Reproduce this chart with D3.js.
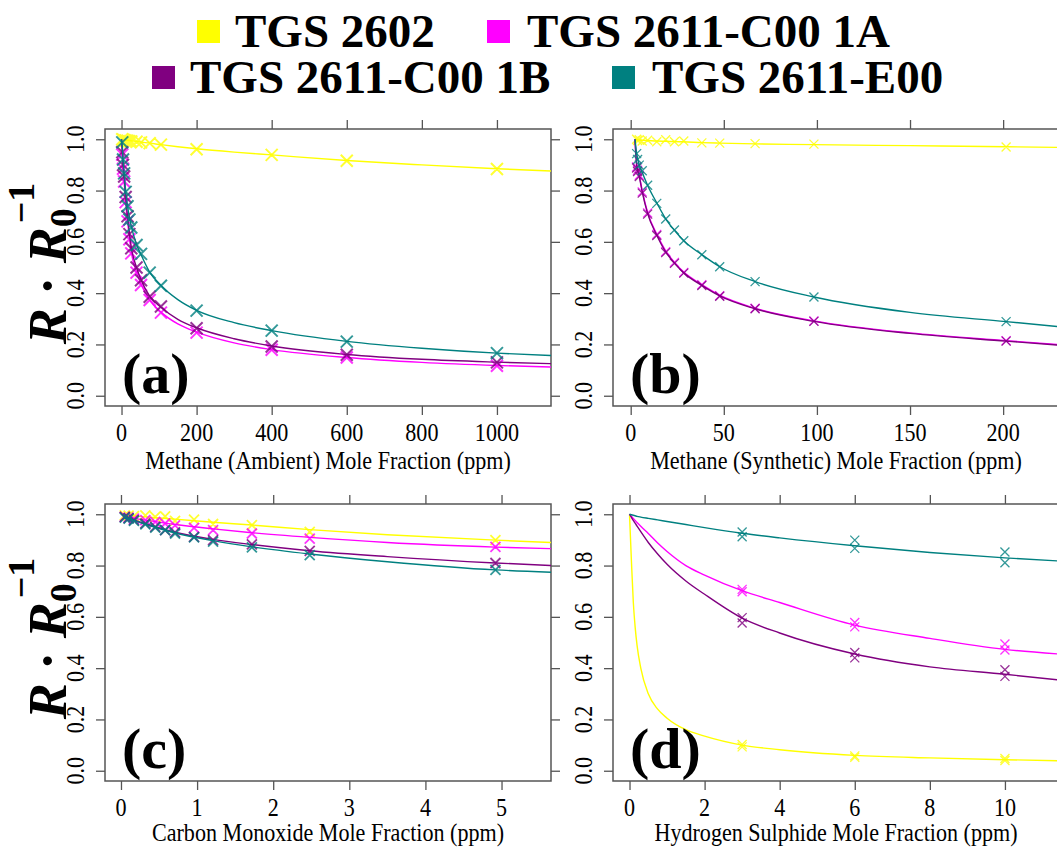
<!DOCTYPE html>
<html><head><meta charset="utf-8">
<script src="https://cdn.jsdelivr.net/npm/d3@7"></script>
<style>body{margin:0;background:#fff;} svg{display:block;}</style>
</head><body>
<svg id="chart" width="1057" height="849"></svg>
<script>
// ---------------- DATA ----------------
const seriesNames  = ["TGS 2602", "TGS 2611-C00 1A", "TGS 2611-C00 1B", "TGS 2611-E00"];
const seriesColors = ["#FFFF00", "#FF00FF", "#800080", "#008080"];
const yTicks = [0, 0.2, 0.4, 0.6, 0.8, 1.0];
const panelLetters = ["(a)", "(b)", "(c)", "(d)"];
const xTitles = ["Methane (Ambient) Mole Fraction (ppm)", "Methane (Synthetic) Mole Fraction (ppm)",
                 "Carbon Monoxide Mole Fraction (ppm)", "Hydrogen Sulphide Mole Fraction (ppm)"];

// Panel (a) – methane ambient
const aXTicks = [0, 200, 400, 600, 800, 1000];
const aPtX = [2, 4, 7, 11, 16, 21, 26, 40, 52, 75, 105, 200, 400, 600, 1000];
const aPtYellow  = [1.0, 0.998, 0.996, 0.995, 0.994, 0.992, 0.991, 0.99, 0.988, 0.985, 0.979, 0.961, 0.939, 0.916, 0.884];
const aPtMagenta = [0.94, 0.885, 0.835, 0.755, 0.68, 0.61, 0.555, 0.48, 0.432, 0.373, 0.324, 0.246, 0.179, 0.149, 0.117];
const aPtPurple  = [0.95, 0.90, 0.855, 0.775, 0.70, 0.63, 0.575, 0.50, 0.45, 0.386, 0.348, 0.263, 0.192, 0.160, 0.130];
const aPtTeal    = [0.988, 0.921, 0.867, 0.795, 0.739, 0.687, 0.656, 0.588, 0.553, 0.480, 0.429, 0.332, 0.254, 0.211, 0.166];
const aFitX = [0, 2, 4, 7, 11, 16, 21, 26, 40, 52, 75, 105, 150, 200, 300, 400, 600, 800, 1000, 1144];
const aFitYellow  = [1, 1.0, 0.999, 0.998, 0.997, 0.996, 0.995, 0.994, 0.991, 0.989, 0.985, 0.979, 0.971, 0.963, 0.95, 0.939, 0.917, 0.90, 0.885, 0.876];
const aFitMagenta = [1, 0.945, 0.885, 0.835, 0.755, 0.68, 0.615, 0.56, 0.482, 0.435, 0.373, 0.326, 0.28, 0.248, 0.206, 0.18, 0.149, 0.13, 0.118, 0.112];
const aFitPurple  = [1, 0.955, 0.90, 0.85, 0.775, 0.70, 0.635, 0.58, 0.50, 0.452, 0.388, 0.345, 0.298, 0.265, 0.222, 0.194, 0.161, 0.142, 0.131, 0.125];
const aFitTeal    = [1, 0.975, 0.925, 0.87, 0.80, 0.74, 0.695, 0.66, 0.59, 0.55, 0.482, 0.43, 0.375, 0.333, 0.285, 0.254, 0.212, 0.185, 0.166, 0.157];

// Panel (b) – methane synthetic
const bXTicks = [0, 50, 100, 150, 200];
const bPtX = [3.2, 3.7, 4.6, 6.2, 9.1, 14, 18.8, 23.5, 28.5, 38.2, 47.8, 66.8, 98.4, 201.6];
const bPtYellow  = [1.0, 0.995, 0.998, 0.993, 0.996, 0.99, 0.998, 0.99, 0.993, 0.986, 0.985, 0.983, 0.981, 0.970];
const bPtMagenta = [0.892, 0.879, 0.86, 0.795, 0.713, 0.629, 0.562, 0.520, 0.481, 0.433, 0.390, 0.341, 0.292, 0.215];
const bPtPurple  = [0.888, 0.874, 0.855, 0.79, 0.708, 0.625, 0.558, 0.516, 0.478, 0.430, 0.388, 0.339, 0.290, 0.213];
const bPtTeal    = [0.944, 0.921, 0.899, 0.877, 0.821, 0.750, 0.689, 0.646, 0.604, 0.550, 0.503, 0.445, 0.385, 0.289];
const bFitX = [2.3, 3.2, 4.6, 6.2, 9.1, 14, 18.8, 23.5, 28.5, 38.2, 47.8, 66.8, 98.4, 150, 201.6, 232];
const bFitYellow  = [1.0, 0.998, 0.997, 0.996, 0.995, 0.993, 0.992, 0.991, 0.99, 0.987, 0.985, 0.982, 0.979, 0.975, 0.971, 0.968];
const bFitMagenta = [1.0, 0.905, 0.86, 0.80, 0.715, 0.63, 0.565, 0.52, 0.482, 0.433, 0.392, 0.341, 0.292, 0.245, 0.215, 0.198];
const bFitPurple  = [1.0, 0.90, 0.855, 0.795, 0.71, 0.626, 0.561, 0.517, 0.479, 0.430, 0.389, 0.339, 0.290, 0.243, 0.213, 0.196];
const bFitTeal    = [1.0, 0.945, 0.90, 0.87, 0.82, 0.752, 0.69, 0.645, 0.604, 0.55, 0.503, 0.445, 0.385, 0.325, 0.289, 0.268];

// Panel (c) – carbon monoxide
const cXTicks = [0, 1, 2, 3, 4, 5];
const cPtX = [0.05, 0.1, 0.17, 0.32, 0.45, 0.58, 0.71, 0.96, 1.21, 1.72, 2.48, 4.92];
const cPtYellow  = [0.996, 0.995, 0.993, 0.996, 0.99, 0.992, 0.974, 0.979, 0.962, 0.958, 0.931, 0.899];
const cPtMagenta = [0.99, 0.987, 0.983, 0.977, 0.970, 0.964, 0.957, 0.947, 0.938, 0.925, 0.905, 0.873];
const cPtPurple  = [0.99, 0.985, 0.977, 0.964, 0.951, 0.938, 0.929, 0.912, 0.899, 0.883, 0.857, 0.810];
const cPtTeal    = [0.987, 0.983, 0.974, 0.961, 0.948, 0.938, 0.925, 0.910, 0.893, 0.871, 0.841, 0.783];
const cFitX = [0.05, 0.32, 0.71, 1.21, 1.72, 2.48, 3.5, 4.92, 5.65];
const cFitYellow  = [0.997, 0.99, 0.981, 0.969, 0.958, 0.94, 0.92, 0.899, 0.89];
const cFitMagenta = [0.99, 0.977, 0.96, 0.943, 0.928, 0.91, 0.89, 0.872, 0.866];
const cFitPurple  = [0.99, 0.964, 0.93, 0.902, 0.882, 0.858, 0.835, 0.81, 0.80];
const cFitTeal    = [0.988, 0.961, 0.927, 0.897, 0.873, 0.845, 0.815, 0.783, 0.774];

// Panel (d) – hydrogen sulphide (two replicates per concentration)
const dXTicks = [0, 2, 4, 6, 8, 10];
const dPtX = [3, 6, 10];
const dPtYellowR1  = [0.102, 0.058, 0.048], dPtYellowR2  = [0.093, 0.052, 0.040];
const dPtMagentaR1 = [0.707, 0.578, 0.494], dPtMagentaR2 = [0.698, 0.561, 0.471];
const dPtPurpleR1  = [0.597, 0.461, 0.394], dPtPurpleR2  = [0.576, 0.440, 0.368];
const dPtTealR1    = [0.931, 0.899, 0.853], dPtTealR2    = [0.912, 0.867, 0.811];
const dFitX = [0, 0.05, 0.1, 0.15, 0.2, 0.3, 0.5, 0.75, 1, 1.5, 2, 3, 4, 6, 8, 10, 11.44];
const dFitYellow  = [1, 0.82, 0.66, 0.56, 0.49, 0.40, 0.30, 0.24, 0.205, 0.16, 0.135, 0.10, 0.082, 0.06, 0.05, 0.043, 0.039];
const dFitMagenta = [1, 0.992, 0.984, 0.976, 0.968, 0.953, 0.925, 0.888, 0.855, 0.80, 0.763, 0.702, 0.656, 0.568, 0.516, 0.473, 0.455];
const dFitPurple  = [1, 0.988, 0.976, 0.965, 0.954, 0.932, 0.89, 0.845, 0.805, 0.74, 0.688, 0.595, 0.537, 0.455, 0.405, 0.376, 0.354];
const dFitTeal    = [1, 0.998, 0.996, 0.994, 0.992, 0.989, 0.984, 0.978, 0.972, 0.96, 0.948, 0.926, 0.908, 0.877, 0.851, 0.830, 0.818];

// ---------------- BUILD ----------------
const panels = [
  { box: [105, 551, 129, 406], xd: [-44, 1144], ticks: aXTicks, ms: 6, sw: 2,
    pts: [{x: aPtX, ys: [[aPtYellow], [aPtMagenta], [aPtPurple], [aPtTeal]]}],
    fitX: aFitX, fits: [aFitYellow, aFitMagenta, aFitPurple, aFitTeal] },
  { box: [613, 1059, 129, 406], xd: [-9.5, 230], ticks: bXTicks, ms: 4.5, sw: 1.3,
    pts: [{x: bPtX, ys: [[bPtYellow], [bPtMagenta], [bPtPurple], [bPtTeal]]}],
    fitX: bFitX, fits: [bFitYellow, bFitMagenta, bFitPurple, bFitTeal] },
  { box: [105, 551, 504, 781], xd: [-0.21, 5.65], ticks: cXTicks, ms: 5, sw: 1.8,
    pts: [{x: cPtX, ys: [[cPtYellow], [cPtMagenta], [cPtPurple], [cPtTeal]]}],
    fitX: cFitX, fits: [cFitYellow, cFitMagenta, cFitPurple, cFitTeal] },
  { box: [613, 1059, 504, 781], xd: [-0.44, 11.44], ticks: dXTicks, ms: 4.5, sw: 1.3,
    pts: [{x: dPtX, ys: [[dPtYellowR1, dPtYellowR2], [dPtMagentaR1, dPtMagentaR2], [dPtPurpleR1, dPtPurpleR2], [dPtTealR1, dPtTealR2]]}],
    fitX: dFitX, fits: [dFitYellow, dFitMagenta, dFitPurple, dFitTeal] }
];

const svg = d3.select("#chart");
const SERIF = "'Liberation Serif', 'Times New Roman', serif";
const AXC = "#555";

function sText(parent, x, y, str, o) {
  const rot = o.rot || 0, sx = o.sx || 1;
  return parent.append("text")
    .attr("transform", `translate(${x},${y}) rotate(${rot}) scale(${sx},1)`)
    .attr("text-anchor", o.anchor || "middle")
    .attr("font-family", SERIF)
    .attr("font-size", o.size)
    .attr("font-weight", o.weight || "normal")
    .attr("fill", "#000")
    .text(str);
}

panels.forEach((p, i) => {
  const [L, R, T, B] = p.box;
  const x = d3.scaleLinear().domain(p.xd).range([L, R]);
  const y = d3.scaleLinear().domain([-0.04, 1.04]).range([B, T]);
  const g = svg.append("g");

  const tick = 9;
  const axB = g.append("g").attr("transform", `translate(0,${B})`).call(d3.axisBottom(x).tickValues(p.ticks).tickSize(tick).tickFormat(""));
  const axT = g.append("g").attr("transform", `translate(0,${T})`).call(d3.axisTop(x).tickValues(p.ticks).tickSize(tick).tickFormat(""));
  const axL = g.append("g").attr("transform", `translate(${L},0)`).call(d3.axisLeft(y).tickValues(yTicks).tickSize(tick).tickFormat(""));
  const axR = g.append("g").attr("transform", `translate(${R},0)`).call(d3.axisRight(y).tickValues(yTicks).tickSize(tick).tickFormat(""));
  [axB, axT, axL, axR].forEach(a => {
    a.select(".domain").remove();
    a.selectAll("line").attr("stroke", AXC).attr("stroke-width", 1.3);
  });
  g.append("rect").attr("x", L).attr("y", T).attr("width", R - L).attr("height", B - T)
    .attr("fill", "none").attr("stroke", AXC).attr("stroke-width", 1.5);

  p.ticks.forEach(t => sText(g, x(t), B + 35, String(t), {size: 26, sx: 0.85}));
  yTicks.forEach(t => sText(g, L - 21, y(t), t.toFixed(1), {size: 26, sx: 0.85, rot: -90}));

  sText(g, L + 223, B + (i < 2 ? 63 : 60), xTitles[i], {size: 26, sx: 0.85});

  const cid = "clip" + i;
  g.append("clipPath").attr("id", cid).append("rect").attr("x", L).attr("y", T).attr("width", R - L).attr("height", B - T);
  const plot = g.append("g").attr("clip-path", `url(#${cid})`);

  const line = d3.line().x(d => x(d[0])).y(d => y(d[1])).curve(d3.curveMonotoneX);
  seriesColors.forEach((col, s) => {
    plot.append("path").datum(p.fitX.map((xv, k) => [xv, p.fits[s][k]]))
      .attr("d", line).attr("fill", "none").attr("stroke", col).attr("stroke-width", 1.4);
    p.pts.forEach(set => {
      set.ys[s].forEach(rep => {
        const pts = set.x.map((xv, k) => [x(xv), y(rep[k])]);
        const m = p.ms;
        plot.append("path")
          .attr("d", pts.map(([cx, cy]) => `M${cx - m},${cy - m}L${cx + m},${cy + m}M${cx - m},${cy + m}L${cx + m},${cy - m}`).join(""))
          .attr("fill", "none").attr("stroke", col).attr("stroke-width", p.sw).attr("stroke-opacity", 0.8);
      });
    });
  });

  sText(g, L + 17, B - 13, panelLetters[i], {size: 58, weight: "bold", anchor: "start"});

  if (i % 2 === 0) {
    const cy = (T + B) / 2 - 4;
    const t = g.append("text")
      .attr("transform", `translate(${66},${cy}) rotate(-90)`)
      .attr("text-anchor", "middle")
      .attr("font-family", SERIF).attr("font-size", 54).attr("font-weight", "bold").attr("fill", "#000");
    t.append("tspan").attr("font-style", "italic").text("R");
    t.append("tspan").text(" \u00B7 ");
    t.append("tspan").attr("font-style", "italic").text("R");
    t.append("tspan").attr("font-size", 38).attr("dy", 10).text("0");
    t.append("tspan").attr("font-size", 38).attr("dx", -15).attr("dy", -42).text("\u22121");
  }
});

// ---------------- LEGEND ----------------
const legendRows = [[0, 1], [2, 3]];
const legendPos = [[[197, 235], [487, 527]], [[152, 190], [612, 652]]];
const legendBase = [47, 93];
legendRows.forEach((row, r) => {
  row.forEach((s, k) => {
    const [sqx, tx] = legendPos[r][k];
    svg.append("rect").attr("x", sqx).attr("y", legendBase[r] - 27).attr("width", 23).attr("height", 23)
      .attr("fill", seriesColors[s]);
    sText(svg, tx, legendBase[r], seriesNames[s], {size: 47, weight: "bold", anchor: "start"});
  });
});
</script>
</body></html>
